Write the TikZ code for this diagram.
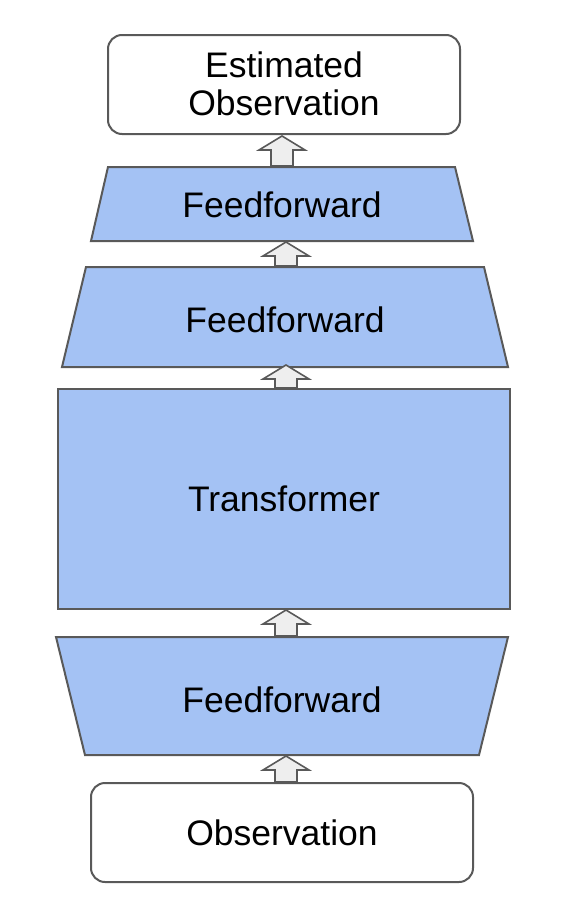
\documentclass[tikz,border=0pt]{standalone}
\usepackage{fontspec}
\setmainfont{Liberation Sans}
\definecolor{linec}{HTML}{595959}
\definecolor{blockblue}{HTML}{A4C2F4}
\definecolor{arrowfill}{HTML}{EEEEEE}
\tikzset{
  box/.style={draw=linec, line width=2pt, rounded corners=14pt, fill=white, inner sep=0pt},
  blk/.style={draw=linec, line width=2pt, fill=blockblue, line join=miter},
  lbl/.style={font=\fontsize{35.5}{38}\selectfont, align=center, text=black, inner sep=0pt},
  uparrow/.style={draw=linec, line width=1.6pt, fill=arrowfill, line join=miter}
}
\begin{document}
\begin{tikzpicture}[x=1pt,y=-1pt]
\useasboundingbox (0,0) rectangle (562,916);
% rounded boxes
\node[box, minimum width=352pt, minimum height=99pt] (est) at (284,84.5) {};
\node[lbl] (estL) at (284,84) {Estimated\\Observation};
\node[box, minimum width=382pt, minimum height=99pt] (obs) at (282,832.5) {};
\node[lbl] (obsL) at (282,833) {Observation};
% transformer
\node[blk, minimum width=452pt, minimum height=220pt, inner sep=0pt] (tr) at (284,499) {};
\node[lbl] (trL) at (284,499) {Transformer};
% trapezoids
\draw[blk] (108,167) -- (455,167) -- (473,241) -- (91,241) -- cycle;
\node[lbl] (ff1) at (282,205) {Feedforward};
\draw[blk] (86,267) -- (484,267) -- (508,367) -- (62,367) -- cycle;
\node[lbl] (ff2) at (285,320) {Feedforward};
\draw[blk] (56,637) -- (508,637) -- (479,755) -- (85,755) -- cycle;
\node[lbl] (ff3) at (282,700) {Feedforward};
% block arrows: tip and base coordinates
\foreach \nm/\cx/\yt/\yb in {a1/282/136/166, a2/286/242/266, a3/286/365/388, a4/286/610/636, a5/286/756/782}{
  \coordinate (\nm tip) at (\cx,\yt);
  \coordinate (\nm base) at (\cx,\yb);
  \draw[uparrow] (\nm tip) -- ++(23,14) -- ++(-12,0) -- (\cx+11,\yb) -- (\cx-11,\yb) -- (\cx-11,\yt+14) -- (\cx-23,\yt+14) -- cycle;
}
\end{tikzpicture}
\end{document}
